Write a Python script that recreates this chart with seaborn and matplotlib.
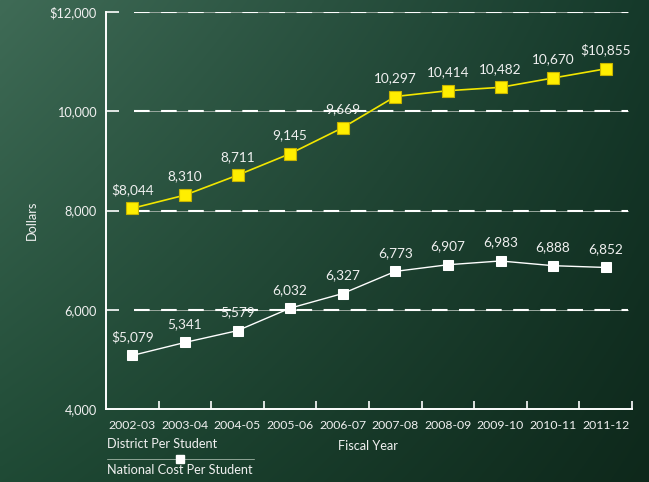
import numpy as np
import pandas as pd
import matplotlib
matplotlib.use("Agg")
import matplotlib.pyplot as plt
import seaborn as sns
from matplotlib.colors import to_rgb

years = ["2002-03", "2003-04", "2004-05", "2005-06", "2006-07",
         "2007-08", "2008-09", "2009-10", "2010-11", "2011-12"]
district = [8044, 8310, 8711, 9145, 9669, 10297, 10414, 10482, 10670, 10855]
national = [5079, 5341, 5579, 6032, 6327, 6773, 6907, 6983, 6888, 6852]
district_labels = ["$8,044", "8,310", "8,711", "9,145", "9,669", "10,297",
                   "10,414", "10,482", "10,670", "$10,855"]
national_labels = ["$5,079", "5,341", "5,579", "6,032", "6,327", "6,773",
                   "6,907", "6,983", "6,888", "6,852"]
yticks = [4000, 6000, 8000, 10000, 12000]
ytick_labels = ["4,000", "6,000", "8,000", "10,000", "$12,000"]
grid_vals = [6000, 8000, 10000, 12000]

sns.set_style("white")
plt.rcParams["font.family"] = ["Lato", "DejaVu Sans"]
plt.rcParams["xtick.bottom"] = True
plt.rcParams["ytick.left"] = True
plt.rcParams["xtick.direction"] = "in"
plt.rcParams["ytick.direction"] = "in"

W, H = 649, 482
fig = plt.figure(figsize=(W / 100, H / 100), dpi=100)

# background gradient
bg = fig.add_axes([0, 0, 1, 1])
tl = np.array(to_rgb("#3f6b56"))
tr = np.array(to_rgb("#15392a"))
bl = np.array(to_rgb("#1f4a35"))
br = np.array(to_rgb("#0e281b"))
u = np.linspace(0, 1, 300)[None, :, None]
v = np.linspace(0, 1, 300)[:, None, None]
img = (1 - u) * (1 - v) * tl + u * (1 - v) * tr + (1 - u) * v * bl + u * v * br
bg.imshow(img, aspect="auto", extent=[0, 1, 0, 1], origin="upper")
bg.axis("off")

ax = fig.add_axes([106 / W, 1 - 409 / H, (632 - 106) / W, (409 - 12) / H])
ax.set_facecolor("none")

df = pd.DataFrame({"year": years, "district": district, "national": national})
df["x"] = np.arange(len(years))

sns.lineplot(data=df, x="x", y="district", ax=ax, color="#f2e600", lw=1.2,
             marker="s", markersize=8.5, markerfacecolor="#ffee00",
             markeredgecolor="#c8b400", markeredgewidth=0.8, zorder=5)
sns.lineplot(data=df, x="x", y="national", ax=ax, color="white", lw=1.0,
             marker="s", markersize=6.5, markerfacecolor="white",
             markeredgecolor="white", zorder=5)

for i, (d, lab) in enumerate(zip(district, district_labels)):
    ax.annotate(lab, (i, d), xytext=(0, 9), textcoords="offset points",
                ha="center", va="bottom", color="#f0f0f0", fontsize=9.8)
for i, (n, lab) in enumerate(zip(national, national_labels)):
    ax.annotate(lab, (i, n), xytext=(0, 9), textcoords="offset points",
                ha="center", va="bottom", color="#f0f0f0", fontsize=9.8)

# gridlines: thin grey line with white dashes
for g in grid_vals:
    ax.axhline(g, xmin=0.053, xmax=0.992, color="#9aa89f", lw=0.7, zorder=1)
    ax.axhline(g, xmin=0.053, xmax=0.992, color="white", lw=1.5,
               dashes=(7.5, 5.5), zorder=2)

ax.set_xlim(-0.5, 9.5)
ax.set_ylim(4000, 12000)
ax.set_xticks(np.arange(len(years)))
ax.set_xticklabels(years)
ax.set_xticks(np.arange(0.5, 10, 1.0), minor=True)
ax.xaxis.set_tick_params(which="major", bottom=True, length=0, pad=8,
                         labelcolor="#f0f0f0", labelsize=8.8)
ax.xaxis.set_tick_params(which="minor", bottom=True, direction="in", length=6,
                         color="white", width=1.2)
ax.set_yticks(yticks)
ax.set_yticklabels(ytick_labels)
ax.yaxis.set_tick_params(which="major", left=True, direction="in", length=9,
                         width=1.2, color="white", pad=6.5,
                         labelcolor="#f0f0f0", labelsize=9.2)
ax.yaxis.get_major_ticks()[0].tick1line.set_visible(False)

for s in ["top", "right"]:
    ax.spines[s].set_visible(False)
for s in ["left", "bottom"]:
    ax.spines[s].set_color("white")
    ax.spines[s].set_linewidth(1.4)

ax.set_xlabel("Fiscal Year", color="#f0f0f0", fontsize=9.2)
ax.set_ylabel("Dollars", color="#f0f0f0", fontsize=9.2)
ax.xaxis.set_label_coords((368 - 106) / (632 - 106), -(440 - 409) / (409 - 12))
ax.yaxis.set_label_coords(-(106 - 38) / (632 - 106), (409 - 220) / (409 - 12))

# legend-like text block
fig.text(107 / W, 1 - 444 / H, "District Per Student", color="#f0f0f0",
         fontsize=9.2, va="center", ha="left")
fig.add_artist(plt.Line2D([107 / W, 254 / W], [1 - 459 / H, 1 - 459 / H],
                          color="#8fa596", lw=0.7))
fig.add_artist(plt.Line2D([180 / W], [1 - 459 / H], marker="s", color="white",
                          markersize=5.5, lw=0))
fig.text(107 / W, 1 - 470 / H, "National Cost Per Student", color="#f0f0f0",
         fontsize=9.2, va="center", ha="left")

fig.savefig("out.png", dpi=100)
